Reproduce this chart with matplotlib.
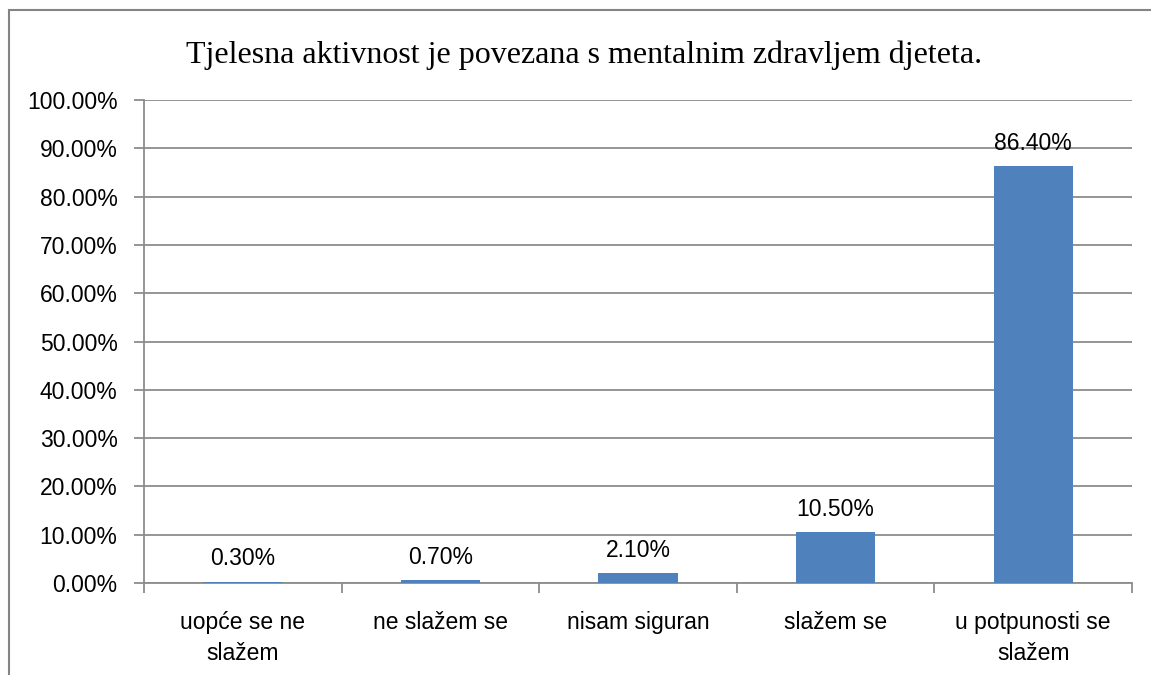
import matplotlib.pyplot as plt
import matplotlib.patches as patches
from matplotlib.ticker import FuncFormatter

# podaci
kategorije = ['uopće se ne\nslažem', 'ne slažem se', 'nisam siguran', 'slažem se', 'u potpunosti se\nslažem']
postotci = [0.30, 0.70, 2.10, 10.50, 86.40]
naslov = 'Tjelesna aktivnost je povezana s mentalnim zdravljem djeteta.'

plt.rcParams['font.family'] = ['Liberation Sans', 'DejaVu Sans']
vel = 16.5

fig = plt.figure(figsize=(11.51, 6.75), dpi=100)
ax = fig.add_axes([144 / 1151, 1 - 583 / 675, (1132 - 144) / 1151, (583 - 100) / 675])

x = range(len(kategorije))
bars = ax.bar(x, postotci, width=0.4, color='#4F81BD', zorder=3)

for b, v in zip(bars, postotci):
    ax.annotate('%.2f%%' % v, (b.get_x() + b.get_width() / 2, v),
                xytext=(0, 8), textcoords='offset points',
                ha='center', va='bottom', fontsize=vel, color='black')

ax.set_xlim(-0.5, len(kategorije) - 0.5)
ax.set_ylim(0, 100)
ax.set_yticks(range(0, 101, 10))
ax.yaxis.set_major_formatter(FuncFormatter(lambda v, p: '%.2f%%' % v))
ax.yaxis.grid(True, color='#8C8C8C', linewidth=1.3, zorder=0)

ax.set_xticks([i + 0.5 for i in range(-1, len(kategorije))], minor=False)
ax.set_xticklabels([])
ax.set_xticks(list(x), minor=True)
ax.set_xticklabels(kategorije, minor=True, fontsize=vel, linespacing=1.45)
ax.tick_params(axis='x', which='major', length=7, width=1.3, color='#8C8C8C')
ax.tick_params(axis='x', which='minor', length=0, pad=20)
ax.tick_params(axis='y', length=7, width=1.3, color='#8C8C8C', labelsize=vel, pad=12)

for s in ['top', 'right']:
    ax.spines[s].set_visible(False)
for s in ['left', 'bottom']:
    ax.spines[s].set_color('#8C8C8C')
    ax.spines[s].set_linewidth(1.3)

fig.text(584 / 1151, 1 - 63 / 675, naslov, ha='center', va='baseline',
         fontsize=23, family=['Liberation Serif', 'DejaVu Serif'])

# okvir grafikona
okvir = patches.Rectangle((9 / 1151, -0.1), 1.2, 1 - 10 / 675 + 0.1,
                          transform=fig.transFigure, fill=False,
                          edgecolor='#848484', linewidth=1.5)
fig.patches.append(okvir)

fig.savefig('out.png', dpi=100)
